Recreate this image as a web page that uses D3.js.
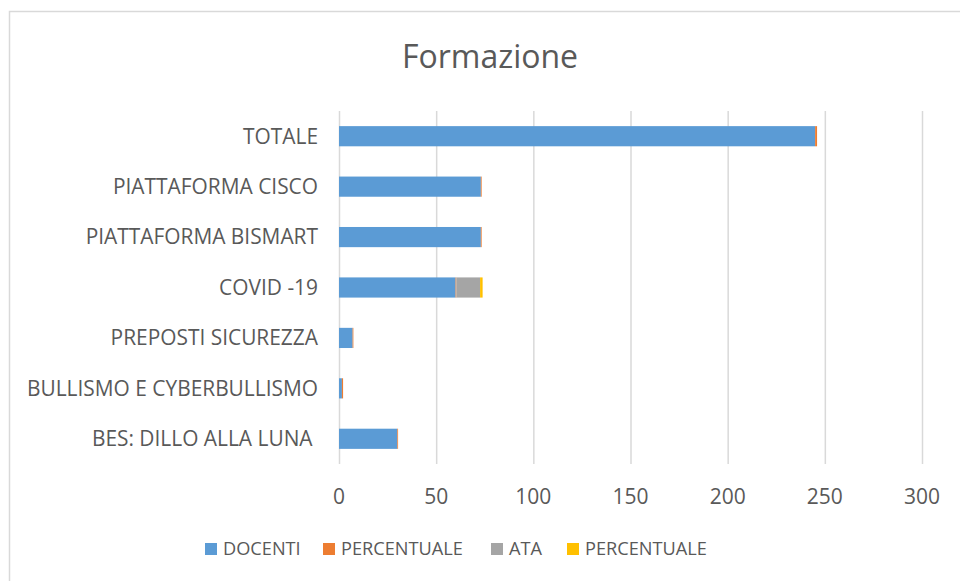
<html>
<head>
    <script src="https://d3js.org/d3.v7.min.js"></script>
    <style>
        body { margin: 0; background: #fff; }
        text { font-family: "Open Sans", sans-serif; fill: #595959; }
        .gridlines line { stroke: #d9d9d9; stroke-width: 1.5px; }
        .gridlines .domain { stroke: none; }
    </style>
</head>
<body>
    <svg id="chart" width="960" height="581"></svg>

    <script>
        // categories from top to bottom
        const categories = ["TOTALE", "PIATTAFORMA CISCO", "PIATTAFORMA BISMART", "COVID -19",
                            "PREPOSTI SICUREZZA", "BULLISMO E CYBERBULLISMO", "BES: DILLO ALLA LUNA "];
        const docenti      = [245, 73, 73, 60, 7, 1.5, 30];
        const percDocenti  = [1, 0.4, 0.4, 0.4, 0.4, 0.6, 0.4];
        const ata          = [0, 0, 0, 12.2, 0, 0, 0];
        const percAta      = [0, 0, 0, 1.3, 0, 0, 0];
        const seriesNames  = ["DOCENTI", "PERCENTUALE", "ATA", "PERCENTUALE"];
        const seriesColors = ["#5b9bd5", "#ed7d31", "#a5a5a5", "#ffc000"];
        const xTicks = [0, 50, 100, 150, 200, 250, 300];

        const svg = d3.select("#chart");

        // chart border
        svg.append("rect")
            .attr("x", 9.5).attr("y", 11.5)
            .attr("width", 960).attr("height", 600)
            .attr("fill", "none").attr("stroke", "#d9d9d9").attr("stroke-width", 1.5);

        svg.append("text")
            .attr("x", 490).attr("y", 68)
            .attr("text-anchor", "middle")
            .style("font-size", "32px")
            .text("Formazione");

        const x = d3.scaleLinear().domain([0, 300]).range([339, 922]);
        const y = d3.scaleBand().domain(categories).range([111, 464]).paddingInner(0.6).paddingOuter(0.3);

        // gridlines
        svg.append("g")
            .attr("class", "gridlines")
            .attr("transform", "translate(0,111)")
            .call(d3.axisBottom(x).tickValues(xTicks).tickSize(353).tickFormat(""));

        // tick labels
        svg.append("g").selectAll("text").data(xTicks)
            .join("text")
            .attr("x", d => x(d)).attr("y", 504)
            .attr("text-anchor", "middle")
            .style("font-size", "21px")
            .text(d => d);

        // category labels
        svg.append("g").selectAll("text").data(categories)
            .join("text")
            .attr("x", 318)
            .attr("y", d => y(d) + y.bandwidth() / 2)
            .attr("dy", "0.35em")
            .attr("text-anchor", "end")
            .attr("xml:space", "preserve")
            .style("white-space", "pre")
            .style("font-size", "20.9px")
            .text(d => d);

        // stack the four series
        const rows = categories.map((c, i) => ({
            cat: c, s0: docenti[i], s1: percDocenti[i], s2: ata[i], s3: percAta[i]
        }));
        const stack = d3.stack().keys(["s0", "s1", "s2", "s3"])(rows);

        svg.append("g").selectAll("g").data(stack)
            .join("g")
            .attr("fill", (d, i) => seriesColors[i])
            .selectAll("rect").data(d => d)
            .join("rect")
            .attr("x", d => x(d[0]))
            .attr("y", d => y(d.data.cat))
            .attr("width", d => x(d[1]) - x(d[0]))
            .attr("height", y.bandwidth());

        // legend
        const legendX = [205, 323, 491, 567];
        const legend = svg.append("g").selectAll("g").data(seriesNames)
            .join("g")
            .attr("transform", (d, i) => `translate(${legendX[i]},549)`);

        legend.append("rect")
            .attr("x", 0).attr("y", -6)
            .attr("width", 12).attr("height", 12)
            .attr("fill", (d, i) => seriesColors[i]);

        legend.append("text")
            .attr("x", 18).attr("dy", "0.35em")
            .style("font-size", "18.2px")
            .text(d => d);
    </script>
</body>
</html>
